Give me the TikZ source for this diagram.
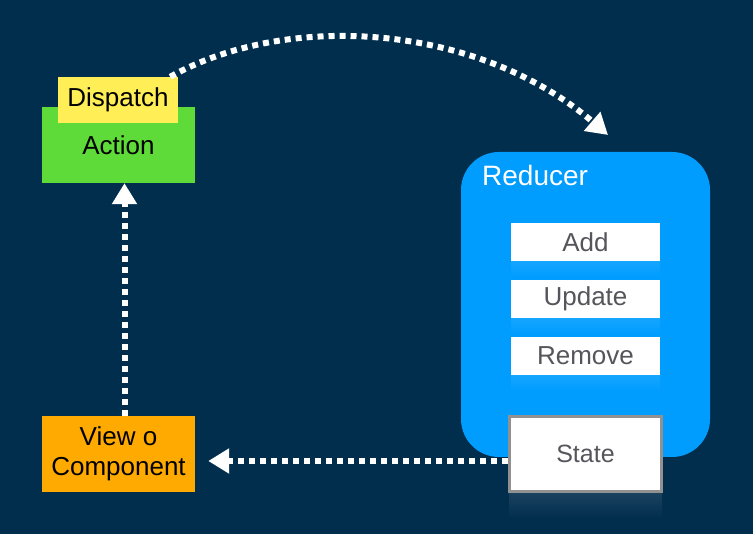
\documentclass[tikz,border=0pt]{standalone}
\usepackage{fontspec}
\setmainfont{Liberation Sans}
\usetikzlibrary{arrows.meta, positioning, calc}
\definecolor{navy}{RGB}{2,46,78}
\definecolor{actiongreen}{RGB}{94,219,56}
\definecolor{dispatchyellow}{RGB}{255,238,85}
\definecolor{vieworange}{RGB}{255,170,0}
\definecolor{reducerblue}{RGB}{0,157,255}
\definecolor{casegray}{RGB}{85,85,92}
\definecolor{stateborder}{RGB}{145,145,145}

\begin{document}
\begin{tikzpicture}[x=1pt, y=-1pt,
        box/.style={inner sep=0pt, align=center, font=\fontsize{26}{30}\selectfont},
        casebox/.style={box, fill=white, text=casegray, minimum width=149pt, minimum height=38pt},
        flow/.style={white, line width=6pt, dash pattern=on 6pt off 5pt,
            -{Triangle[width=24pt,length=21pt]}}]
        \fill[navy] (0,0) rectangle (753,534);
        \useasboundingbox (0,0) rectangle (753,534);

        % Action with Dispatch label
        \node[box, fill=actiongreen, minimum width=153pt, minimum height=76pt, text depth=-16pt] (action) at (118.5,145) {Action};
        \node[box, fill=dispatchyellow, minimum width=120pt, minimum height=46pt] (dispatch) at (118,100) {Dispatch};

        % View o Component
        \node[box, fill=vieworange, minimum width=153pt, minimum height=76pt] (view) at (118.5,454) {View o\\Component};

        % Reducer
        \node[fill=reducerblue, rounded corners=38pt, minimum width=249pt, minimum height=305pt, inner sep=0pt] (reducer) at (585.5,304.5) {};
        \node[box, text=white, font=\fontsize{28}{32}\selectfont, anchor=west] (reducertitle) at (482,175) {Reducer};

        % Cases with reflections
        \foreach \name/\txt/\y in {add/Add/242, update/Update/299, remove/Remove/356} {
            \fill[top color=white!8!reducerblue, bottom color=reducerblue] (511,\y+20) rectangle (660,\y+34);
            \node[casebox] (\name) at (585.5,\y) {\txt};
        }

        % State
        \fill[top color=white!9!navy, bottom color=navy] (509,494) rectangle (662,518);
        \node[box, fill=white, text=casegray, draw=stateborder, line width=3pt, minimum width=152pt, minimum height=75pt,
            font=\fontsize{25}{29}\selectfont] (state) at (585.5,454) {State};

        % Connectors
        \coordinate (dispatchend) at (608,135);
        \draw[flow] ([xshift=-8pt]dispatch.north east) .. controls (290,10) and (480,25) .. (dispatchend);
        \draw[flow] ([xshift=6pt]view.north) -- ([xshift=6pt]action.south);
        \draw[flow, shorten >=13pt] ([yshift=-7pt]state.west) -- ([yshift=-7pt]view.east);
    \end{tikzpicture}
\end{document}
